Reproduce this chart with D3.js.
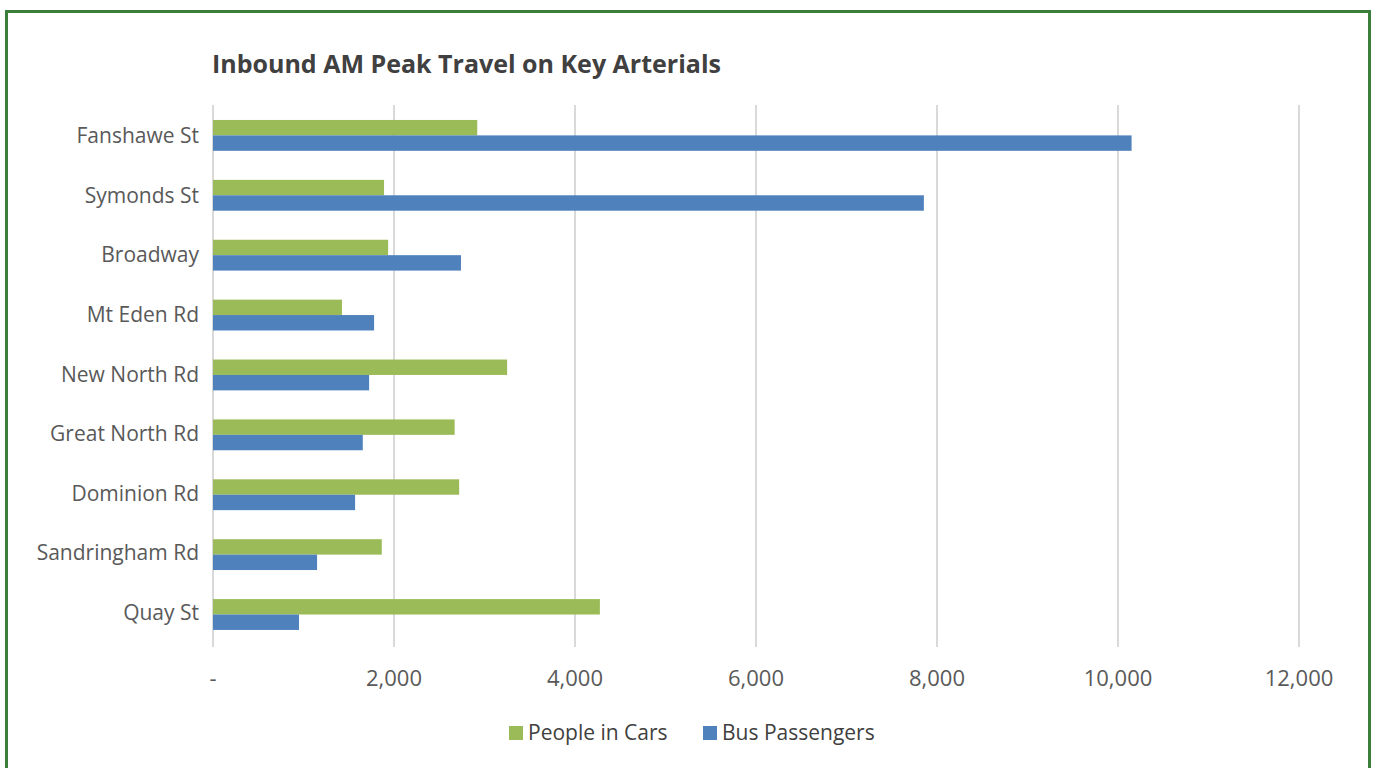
<!DOCTYPE html>
<html lang="en">
<head>
  <meta charset="UTF-8">
  <title>Inbound AM Peak Travel</title>
  <style>
    body { margin: 0; background: #fff; }
    text { font-family: "Open Sans", Lato, sans-serif; }
  </style>
</head>
<body>
  <svg id="svg" width="1376" height="768"></svg>

  <script src="https://d3js.org/d3.v7.min.js"></script>
  <script>
    // data
    const roads = ['Fanshawe St', 'Symonds St', 'Broadway', 'Mt Eden Rd', 'New North Rd',
      'Great North Rd', 'Dominion Rd', 'Sandringham Rd', 'Quay St']
    const cars = [2920, 1890, 1935, 1425, 3250, 2670, 2720, 1865, 4275]
    const buses = [10150, 7855, 2740, 1780, 1725, 1655, 1570, 1150, 950]
    const seriesNames = ['People in Cars', 'Bus Passengers']
    const seriesColors = ['#9bbb59', '#4f81bd']
    const ticks = [0, 2000, 4000, 6000, 8000, 10000, 12000]

    const rows = roads.map((r, i) => ({ road: r, values: [cars[i], buses[i]] }))

    const svg = d3.select('#svg')

    // green frame (bottom edge runs off the page)
    svg.append('rect')
      .attr('x', 6.5).attr('y', 11.5)
      .attr('width', 1363).attr('height', 800)
      .attr('fill', 'none')
      .attr('stroke', '#3b7d3b')
      .attr('stroke-width', 3)

    const plotLeft = 213, plotRight = 1299, plotTop = 105, plotBottom = 647

    const xScale = d3.scaleLinear()
      .domain([0, 12000])
      .range([plotLeft, plotRight])

    // bands a touch narrower than the gridline span
    const yScale = d3.scaleBand()
      .domain(roads)
      .range([plotTop, plotBottom - 3])

    const subScale = d3.scaleBand()
      .domain([0, 1])
      .range([yScale.bandwidth() * 0.25, yScale.bandwidth() * 0.765])

    // title
    svg.append('text')
      .attr('x', 212).attr('y', 73)
      .text('Inbound AM Peak Travel on Key Arterials')
      .style('font-size', '25px')
      .style('font-weight', 'bold')
      .attr('fill', '#404040')

    // gridlines
    svg.append('g')
      .selectAll('line')
      .data(ticks)
      .enter()
      .append('line')
      .attr('x1', d => xScale(d)).attr('x2', d => xScale(d))
      .attr('y1', plotTop).attr('y2', plotBottom)
      .attr('stroke', '#d9d9d9')
      .attr('stroke-width', 2)

    // tick labels
    svg.append('g')
      .selectAll('text')
      .data(ticks)
      .enter()
      .append('text')
      .attr('x', d => xScale(d))
      .attr('y', 686)
      .attr('text-anchor', 'middle')
      .text(d => d === 0 ? '-' : d3.format(',')(d))
      .style('font-size', '22px')
      .attr('fill', '#595959')

    // bars
    const groups = svg.append('g')
      .selectAll('g')
      .data(rows)
      .enter()
      .append('g')
      .attr('transform', d => `translate(0,${yScale(d.road)})`)

    groups.selectAll('rect')
      .data(d => d.values)
      .enter()
      .append('rect')
      .attr('x', xScale(0))
      .attr('y', (d, i) => subScale(i))
      .attr('width', d => xScale(d) - xScale(0))
      .attr('height', subScale.bandwidth())
      .attr('fill', (d, i) => seriesColors[i])

    // category labels
    groups.append('text')
      .attr('x', 199)
      .attr('y', (d, i) => yScale.bandwidth() / 2 + 1 - i * 0.3)
      .attr('dy', '0.35em')
      .attr('text-anchor', 'end')
      .text(d => d.road)
      .style('font-size', '21px')
      .attr('fill', '#595959')

    // legend
    const legendX = [509, 703]
    const legend = svg.append('g')
      .selectAll('g')
      .data(seriesNames)
      .enter()
      .append('g')
      .attr('transform', (d, i) => `translate(${legendX[i]},726)`)

    legend.append('rect')
      .attr('width', 14).attr('height', 14)
      .attr('fill', (d, i) => seriesColors[i])

    legend.append('text')
      .attr('x', 19).attr('y', 7)
      .attr('dy', '0.35em')
      .text(d => d)
      .style('font-size', '21px')
      .attr('fill', '#404040')
  </script>
</body>
</html>
